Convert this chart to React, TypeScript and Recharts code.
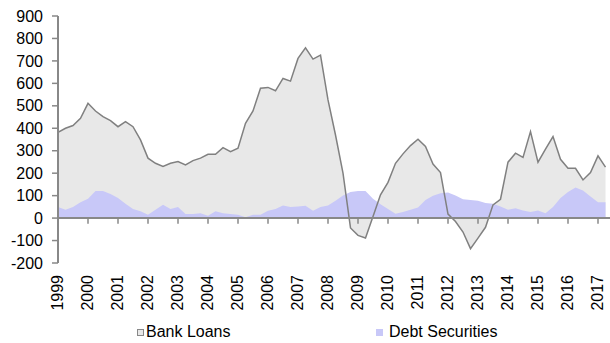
import React from 'react';
import {
  ComposedChart,
  Area,
  Line,
  XAxis,
  YAxis,
  ReferenceLine,
} from 'recharts';

// quarterly flows, 1999Q1 .. 2017Q2
const startYear = 1999;

const bankLoans = [
  382, 400, 412, 444, 511, 477, 452, 434, 407, 430, 407, 348, 267, 244, 230, 244,
  252, 237, 256, 267, 284, 284, 314, 296, 311, 422, 477, 578, 582, 567, 622, 610,
  711, 758, 708, 726, 526, 370, 200, -44, -77, -89, 7, 104, 159, 244, 286, 323,
  351, 319, 241, 203, 18, -15, -62, -136, -89, -41, 59, 84, 249, 289, 270, 385,
  249, 307, 363, 262, 222, 222, 170, 203, 277, 227,
];

const debtSecurities = [
  49, 37, 49, 71, 86, 121, 121, 107, 89, 64, 40, 30, 15, 37, 59, 40,
  49, 18, 18, 22, 10, 30, 22, 18, 15, 4, 15, 15, 33, 41, 56, 49,
  52, 55, 33, 49, 56, 77, 101, 116, 121, 121, 86, 62, 40, 19, 27, 37,
  47, 81, 99, 111, 114, 101, 84, 81, 77, 67, 64, 52, 37, 44, 34, 27,
  34, 22, 49, 89, 116, 136, 123, 96, 70, 70,
];

const yearTicks = [
  1999, 2000, 2001, 2002, 2003, 2004, 2005, 2006, 2007, 2008,
  2009, 2010, 2011, 2012, 2013, 2014, 2015, 2016, 2017,
];

const yTicks = [-200, -100, 0, 100, 200, 300, 400, 500, 600, 700, 800, 900];

const data = bankLoans.map((v, i) => ({
  t: startYear + i / 4,
  loans: v,
  debt: debtSecurities[i],
}));

const axisGrey = '#888888';
const font = '"Liberation Sans", Arial, sans-serif';

const YearTick = ({ x, y, payload }: any) => (
  <text
    x={x}
    y={y}
    transform={`rotate(-90, ${x}, ${y})`}
    textAnchor="end"
    dy="0.32em"
    fontSize={16}
    fontFamily={font}
    fill="#000"
  >
    {payload.value}
  </text>
);

export default function App() {
  return (
    <div style={{ position: 'absolute', left: 0, top: 0, width: 610, height: 343, fontFamily: font }}>
      <ComposedChart
        width={610}
        height={343}
        data={data}
        margin={{ top: 16, right: 0, bottom: 0, left: 0 }}
      >
        <XAxis
          dataKey="t"
          type="number"
          domain={[1999, 2017.4]}
          ticks={yearTicks}
          allowDataOverflow
          axisLine={false}
          tickLine={false}
          tickSize={0}
          tickMargin={12}
          height={80}
          interval={0}
          tick={<YearTick />}
        />
        <YAxis
          domain={[-200, 900]}
          ticks={yTicks}
          width={58}
          interval={0}
          axisLine={{ stroke: axisGrey, strokeWidth: 2 }}
          tickLine={{ stroke: axisGrey, strokeWidth: 1.5 }}
          tickSize={6}
          tickMargin={9}
          tick={{ fontSize: 16, fill: '#000', fontFamily: font }}
        />
        <Area
          dataKey="loans"
          type="linear"
          baseValue={0}
          fill="#E8E8E8"
          fillOpacity={1}
          stroke="none"
          isAnimationActive={false}
        />
        <Area
          dataKey="debt"
          type="linear"
          baseValue={0}
          fill="#C8C8F8"
          fillOpacity={1}
          stroke="none"
          isAnimationActive={false}
        />
        <Line
          dataKey="loans"
          type="linear"
          stroke="#808080"
          strokeWidth={1.5}
          dot={false}
          isAnimationActive={false}
        />
        <ReferenceLine y={0} stroke={axisGrey} strokeWidth={2} />
        {yearTicks.slice(1).map((yr) => (
          <ReferenceLine
            key={yr}
            segment={[{ x: yr, y: 0 }, { x: yr, y: -25 }]}
            stroke={axisGrey}
            strokeWidth={1.5}
          />
        ))}
      </ComposedChart>

      {/* legend */}
      <div style={{ position: 'absolute', left: 137, top: 329, width: 5, height: 5, border: '1px solid #888', background: '#E8E8E8' }} />
      <div style={{ position: 'absolute', left: 146, top: 324, fontSize: 16, lineHeight: '16px', color: '#000' }}>
        Bank Loans
      </div>
      <div style={{ position: 'absolute', left: 376, top: 329, width: 7, height: 7, background: '#C8C8F8' }} />
      <div style={{ position: 'absolute', left: 389, top: 324, fontSize: 16, lineHeight: '16px', color: '#000' }}>
        Debt Securities
      </div>
    </div>
  );
}
